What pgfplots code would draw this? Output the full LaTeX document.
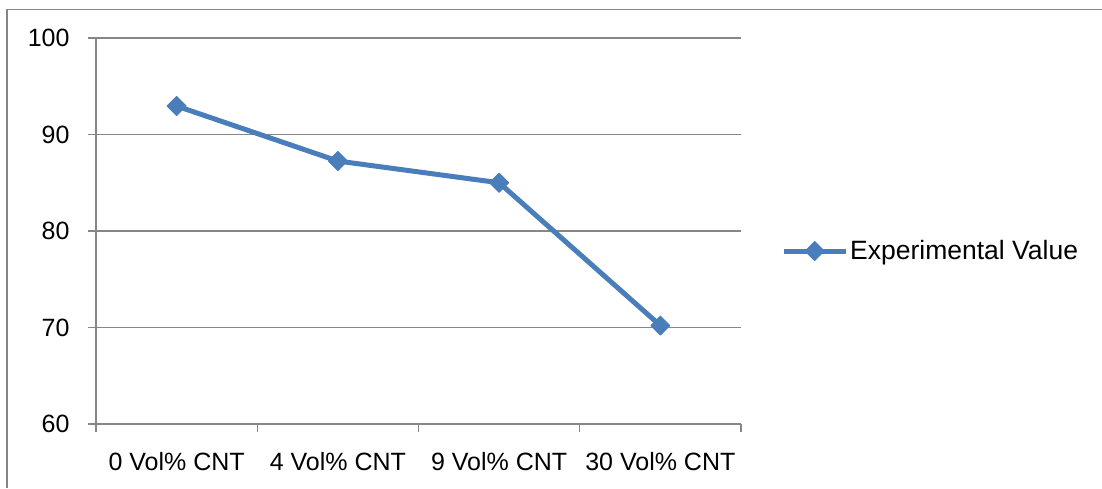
\documentclass[border=0pt]{standalone}
\usepackage{fontspec}
\setmainfont{Liberation Sans}
\usepackage{pgfplots}
\pgfplotsset{compat=1.18}
\definecolor{lineblue}{HTML}{4A7EBB}
\definecolor{axgray}{HTML}{868686}
\begin{document}
\begin{tikzpicture}[x=1pt,y=1pt]
\path[use as bounding box] (0,0) rectangle (1102,488);
\draw[axgray, line width=1.6pt] (7,0) -- (7,478.5) -- (1102,478.5);
\begin{axis}[
  at={(96pt,64pt)}, anchor=south west,
  scale only axis, width=645pt, height=386pt,
  xmin=-0.5, xmax=3.5, ymin=60, ymax=100,
  axis x line=bottom, axis y line=left,
  axis line style={-, draw=axgray, line width=1.4pt},
  ytick={60,70,80,90,100},
  ymajorgrids, grid style={axgray, line width=1.4pt},
  xtick={0,1,2,3},
  xticklabels={0 Vol\% CNT, 4 Vol\% CNT, 9 Vol\% CNT, 30 Vol\% CNT},
  minor xtick={-0.5,0.5,1.5,2.5,3.5},
  major x tick style={draw=none},
  tick align=outside,
  major tick length=8pt, minor tick length=8pt,
  tick style={axgray, line width=1.4pt},
  /pgf/number format/assume math mode=true,
  ticklabel style={font=\fontsize{25}{30}\selectfont, text=black},
  yticklabel style={xshift=-15pt},
  xticklabel style={yshift=-17pt},
  clip=false,
  legend style={draw=none, fill=none, at={(axis description cs:1.062,0.448)}, anchor=west,
    font=\fontsize{26.5}{30}\selectfont, inner sep=0pt, legend cell align=left},
  legend image code/.code={\draw[mark repeat=2,mark phase=2,#1] plot coordinates {(0pt,0pt)(31pt,0pt)(62pt,0pt)};},
]
\addplot[lineblue, line width=5pt, line join=round, mark=square*, mark size=6.7pt,
  mark options={solid, rotate=45, line width=1pt, fill=lineblue}]
  coordinates {(0,92.95) (1,87.25) (2,85.0) (3,70.2)};
\addlegendentry{Experimental Value}
\end{axis}
\end{tikzpicture}
\end{document}
